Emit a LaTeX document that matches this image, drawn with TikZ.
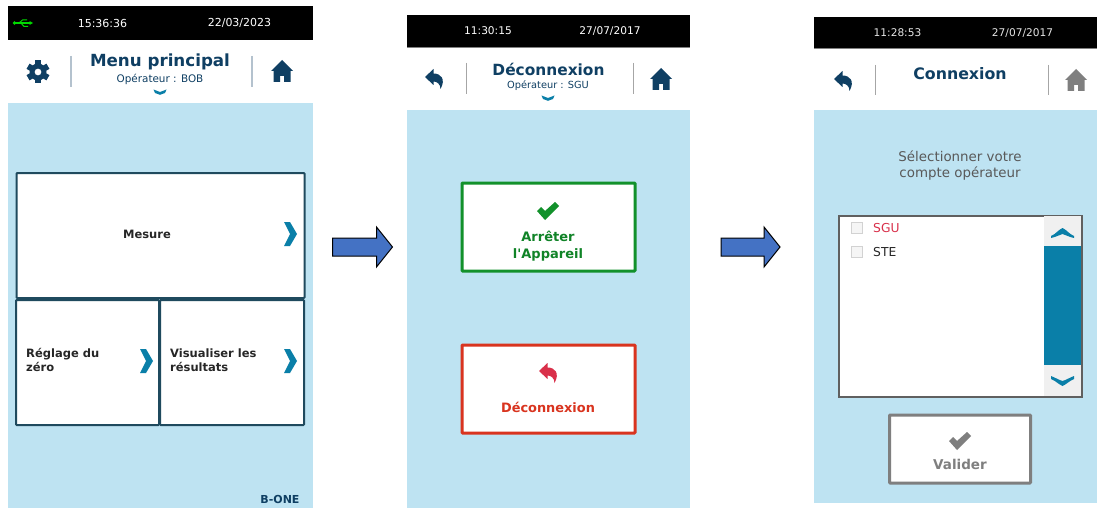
\documentclass[tikz,border=0pt]{standalone}
\usepackage{fontspec}
\setmainfont{DejaVu Sans}[Ligatures=ResetAll]
\newfontfamily\plainfam{DejaVu Sans}
\usetikzlibrary{calc}
\definecolor{skyb}{HTML}{BEE3F2}
\definecolor{navy}{HTML}{0F3F63}
\definecolor{teal2}{HTML}{0A7FA8}
\definecolor{framec}{HTML}{1F4A5E}
\definecolor{greenb}{HTML}{12912B}
\definecolor{redb}{HTML}{D9341F}
\definecolor{crim}{HTML}{D9304A}
\definecolor{greyb}{HTML}{7F7F7F}
\definecolor{arrowb}{HTML}{4472C4}
\definecolor{sepc}{HTML}{B4C2CE}
\definecolor{thumb}{HTML}{0A7FA8}
\tikzset{
  x=1pt,y=-1pt,
  panel/.style={fill=#1,draw=none},
  clock/.style={text=white,font=\fontsize{11}{12}\selectfont,inner sep=0pt},
  clocksm/.style={text=white,font=\fontsize{10.6}{12}\selectfont,inner sep=0pt},
  titl/.style={text=navy,font=\fontsize{#1}{18}\selectfont\bfseries,inner sep=0pt},
  subt/.style={text=navy,font=\fontsize{#1}{11}\selectfont,inner sep=0pt},
  btn/.style={fill=white,draw=framec,line width=2pt,rounded corners=0.8pt,outer sep=0pt,inner sep=0pt},
  lbl/.style={text=black!85,font=\fontsize{11.5}{14}\selectfont\bfseries,inner sep=0pt,align=#1},
  sep/.style={draw=#1,line width=1.2pt},
  flow/.style={fill=arrowb,draw=black,line width=1pt,line join=miter},
}
\newcommand{\chevR}[2]{\fill[teal2] (#1-6,#2-12) -- (#1,#2-12) -- (#1+7,#2) -- (#1,#2+12) -- (#1-6,#2+12) -- (#1,#2) -- cycle;}
\newcommand{\chevSmall}[2]{\fill[teal2] (#1-6.5,#2-2.5) -- (#1,#2) -- (#1+6.5,#2-2.5) -- (#1+5,#2+1) -- (#1,#2+2.8) -- (#1-5,#2+1) -- cycle;}
\newcommand{\house}[3]{\fill[#3] (#1,#2-12) -- (#1+11,#2-1) -- (#1+8.5,#2-1) -- (#1+8.5,#2+10) -- (#1+2,#2+10) -- (#1+2,#2+4) -- (#1-2,#2+4) -- (#1-2,#2+10) -- (#1-8.5,#2+10) -- (#1-8.5,#2-1) -- (#1-11,#2-1) -- cycle;}
\newcommand{\backarr}[3]{\fill[#3] (#1-8,#2-2) -- (#1+0.5,#2-10) -- (#1+0.5,#2-5.5) .. controls (#1+8,#2-5.5) and (#1+13,#2) .. (#1+7.5,#2+10) .. controls (#1+7.5,#2+5) and (#1+4,#2+2.5) .. (#1+0.5,#2+2.5) -- (#1+0.5,#2+6) -- cycle;}
\newcommand{\checkm}[3]{\fill[#3] (#1-11,#2+0) -- (#1-7,#2-4) -- (#1-3,#2) -- (#1+7,#2-9) -- (#1+11,#2-5) -- (#1-3,#2+9) -- cycle;}
\begin{document}
\begin{tikzpicture}
\useasboundingbox (0,0) rectangle (1097,508);
\fill[white] (0,0) rectangle (1097,508);
% ---------- Screen 1
\fill[panel=black] (8,6) rectangle (313,40);
\fill[panel=skyb] (8,103) rectangle (313,508);
\draw[green!85!black,line width=1.1pt] (15,23) -- (30,23);
\fill[green!85!black] (14.5,23) circle (1.8);
\fill[green!85!black] (29.5,21) -- (33,23) -- (29.5,25) -- cycle;
\draw[green!85!black,line width=1pt] (19,23) -- (22.5,20) -- (27,20) (21,23) -- (24,26.5) -- (28,26.5);
\node[clock] (t1) at (102.5,23) {15:36:36};
\node[clock] (d1) at (239.5,23) {22/03/2023};
\node[titl=16.7] (title1) at (160,62) {Menu principal};
\node[subt=10.4] (op1) at (160,79) {Opérateur : BOB};
\chevSmall{160}{92}
\draw[sep=sepc] (71,56) -- (71,87);
\draw[sep=sepc] (252,56) -- (252,87);
\fill[navy,even odd rule] (38,72) circle (8.5) (38,72) circle (3.5);
\foreach \a in {0,60,...,300}{\fill[navy,rotate around={\a:(38,72)}] (35,60.5) rectangle (41,66);}
\house{282}{72}{navy}
\node[btn,minimum width=288pt,minimum height=125pt] (mesure) at (160.5,235.5) {};
\node[lbl=center] (mesuret) at (147,234) {Mesure};
\chevR{290}{234}
\node[btn,minimum width=143pt,minimum height=125pt] (reglage) at (87.5,362.5) {};
\node[lbl=left,anchor=west] (reglaget) at (26,360) {Réglage du\\zéro};
\chevR{146}{361}
\node[btn,minimum width=144pt,minimum height=125pt] (visu) at (232,362.5) {};
\node[lbl=left,anchor=west] (visut) at (170,360) {Visualiser les\\résultats};
\chevR{290}{361}
\node[text=navy,font=\fontsize{11}{12}\selectfont\bfseries,inner sep=0pt] (bone) at (280,499) {B-ONE};
% ---------- Arrow 1
\coordinate (a1) at (332.5,238);
\draw[flow] (a1) -- ++(44,0) -- ++(0,-11) -- ++(16,20) -- ++(-16,20) -- ++(0,-11) -- ++(-44,0) -- cycle;
% ---------- Screen 2
\fill[panel=black] (407,15) rectangle (690,48);
\fill[gray] (407,47.5) rectangle (690,48.5);
\fill[panel=skyb] (407,110) rectangle (690,508);
\node[clocksm] (t2) at (488,31) {11:30:15};
\node[clocksm] (d2) at (610,31) {27/07/2017};
\node[titl=15.4] (title2) at (548.5,69) {Déconnexion};
\node[subt=9.8] (op2) at (548,85.5) {Opérateur : SGU};
\chevSmall{548}{98}
\draw[sep=gray!70,line width=.9pt] (466,63) -- (466,94);
\draw[sep=gray!70,line width=.9pt] (633,63) -- (633,94);
\backarr{433}{79}{navy}
\house{661}{80}{navy}
\node[btn,draw=greenb,line width=3pt,minimum width=173pt,minimum height=88pt] (arret) at (548.5,227) {};
\checkm{548}{211}{greenb}
\node[text=greenb!90!black,font=\fontsize{13}{16.5}\selectfont\plainfam\bfseries,inner sep=0pt,align=center] (arrett) at (548,246) {Arrêter\\l'Appareil};
\node[btn,draw=redb,line width=3pt,minimum width=173pt,minimum height=88pt] (deco) at (548.5,389) {};
\backarr{547}{373}{crim}
\node[text=redb,font=\fontsize{12.9}{14}\selectfont\bfseries,inner sep=0pt] (decot) at (548,407) {Déconnexion};
% ---------- Arrow 2
\coordinate (a2) at (721,238);
\draw[flow] (a2) -- ++(43,0) -- ++(0,-11) -- ++(16,20) -- ++(-16,20) -- ++(0,-11) -- ++(-43,0) -- cycle;
% ---------- Screen 3
\fill[panel=black] (814,17) rectangle (1097,49);
\fill[gray] (814,48.5) rectangle (1097,49.5);
\fill[panel=skyb] (814,110) rectangle (1097,503);
\node[clocksm,text=white!90!black] (t3) at (897.5,33) {11:28:53};
\node[clocksm,text=white!90!black] (d3) at (1022.5,33) {27/07/2017};
\node[titl=15.8] (title3) at (960,73.5) {Connexion};
\draw[sep=gray!70,line width=.9pt] (875,65) -- (875,95);
\draw[sep=gray!70,line width=.9pt] (1048,65) -- (1048,95);
\backarr{842}{81}{navy}
\house{1076}{81}{greyb}
\node[text=black!65,font=\fontsize{13.4}{16}\selectfont,inner sep=0pt,align=center] (sel) at (960,165.5) {Sélectionner votre\\compte opérateur};
\node[fill=white,draw=gray!75!black,line width=2pt,minimum width=243pt,minimum height=181pt,outer sep=0pt,inner sep=0pt] (liste) at (960,306) {};
\fill[gray!12] (1044,216) rectangle (1081,396);
\fill[thumb] (1044,246) rectangle (1081,365);
\fill[teal2] (1051,236) .. controls (1056,234) and (1058,230) .. (1062.5,228) .. controls (1067,230) and (1069,234) .. (1074,236) -- (1074,238) .. controls (1069,237) and (1066,235) .. (1062.5,234) .. controls (1059,235) and (1056,237) .. (1051,238) -- cycle;
\fill[teal2] (1051,376) .. controls (1056,378) and (1059,380) .. (1062.5,381) .. controls (1066,380) and (1069,378) .. (1074,376) -- (1074,379) .. controls (1069,381) and (1067,384) .. (1062.5,386) .. controls (1058,384) and (1056,381) .. (1051,379) -- cycle;
\node[fill=gray!8,draw=gray!35,line width=.6pt,minimum size=11pt,inner sep=0pt] (cb1) at (857,228) {};
\node[fill=gray!8,draw=gray!35,line width=.6pt,minimum size=11pt,inner sep=0pt] (cb2) at (857,252) {};
\node[text=crim,font=\fontsize{12.3}{13}\selectfont,inner sep=0pt,anchor=west] (sgu) at (873,228) {SGU};
\node[text=black!85,font=\fontsize{12.3}{13}\selectfont,inner sep=0pt,anchor=west] (ste) at (873,252) {STE};
\node[btn,draw=greyb,line width=3pt,minimum width=141pt,minimum height=68pt] (valider) at (960,449) {};
\checkm{960}{441}{greyb}
\node[text=greyb,font=\fontsize{13.5}{14}\selectfont\bfseries,inner sep=0pt] (validert) at (960,464) {Valider};
\end{tikzpicture}
\end{document}
